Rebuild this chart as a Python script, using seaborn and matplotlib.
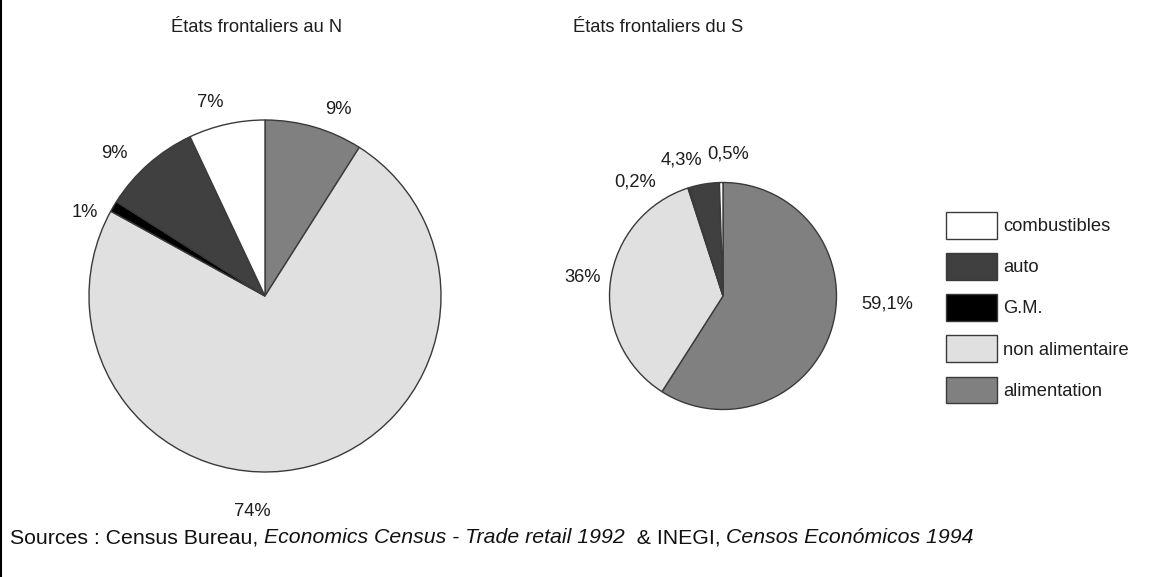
import matplotlib
matplotlib.use("Agg")
import matplotlib.pyplot as plt
from matplotlib.lines import Line2D
from matplotlib.patches import Patch
from matplotlib.text import Annotation
from matplotlib.transforms import Bbox
import seaborn as sns

# Retail sales structure by sector
categories = ["alimentation", "non alimentaire", "G.M.", "auto", "combustibles"]
north_values = [9, 74, 1, 9, 7]
south_values = [59.1, 36, 0.2, 4.3, 0.5]
north_labels = ["9%", "74%", "1%", "9%", "7%"]
south_labels = ["59,1%", "36%", "0,2%", "4,3%", "0,5%"]
legend_order = ["combustibles", "auto", "G.M.", "non alimentaire", "alimentation"]
titles = ["États frontaliers au N", "États frontaliers du S"]

sns.set_theme(style="white")
plt.rcParams["font.family"] = ["Liberation Sans", "DejaVu Sans"]

colors = dict(zip(categories, ["#808080", "#e0e0e0", "#000000", "#404040", "#ffffff"]))
slice_colors = [colors[c] for c in categories]
TXT = "#1e1e1e"
FS = 13.2

W, H = 1176, 577
fig = plt.figure(figsize=(W / 100, H / 100), dpi=100)


def pie_axes(cx, cy, r):
    return fig.add_axes([(cx - r) / W, (H - cy - r) / H, 2 * r / W, 2 * r / H])


def draw_pie(ax, values, labels, label_pos):
    ax.pie(values, colors=slice_colors, startangle=90, counterclock=False,
           radius=1, wedgeprops=dict(edgecolor="#3a3a3a", linewidth=1.0))
    ax.set_xlim(-1, 1)
    ax.set_ylim(-1, 1)
    ax.set_aspect("equal")
    ax.axis("off")
    for lab, (x, y) in zip(labels, label_pos):
        ax.text(x, y, lab, ha="center", va="center", fontsize=FS,
                color=TXT, clip_on=False)


# Northern border states
ax_n = pie_axes(265, 296, 176)
north_pos = [(0.415, 1.06), (-0.074, -1.227), (-1.023, 0.477), (-0.858, 0.807), (-0.313, 1.102)]
draw_pie(ax_n, north_values, north_labels, north_pos)
fig.text(256.5 / W, 1 - 27 / H, titles[0], ha="center", va="center", fontsize=FS, color=TXT)

# Southern border states
ax_s = pie_axes(723, 296, 113.5)
south_pos = [(1.445, -0.070), (-1.233, 0.167), (-0.775, 1.004), (-0.370, 1.198), (0.044, 1.251)]
draw_pie(ax_s, south_values, south_labels, south_pos)
fig.text(658 / W, 1 - 27 / H, titles[1], ha="center", va="center", fontsize=FS, color=TXT)

# Legend
handles = [Patch(facecolor=colors[c], edgecolor="#3a3a3a", linewidth=1.0) for c in legend_order]
leg = fig.legend(handles, legend_order, loc="upper left", bbox_to_anchor=(946 / W, 1 - 212 / H),
                 frameon=False, fontsize=FS, handlelength=2.8, handleheight=1.86,
                 labelspacing=0.79, handletextpad=0.3, borderpad=0, borderaxespad=0)
clip = Bbox.from_extents(0, 0, 1129, H)
for t in leg.get_texts():
    t.set_color(TXT)
    t.set_clip_box(clip)
    t.set_clip_on(True)

# Source line with italic titles
parts = [("Sources : Census Bureau, ", "normal"),
         ("Economics Census - Trade retail 1992", "italic"),
         ("  & INEGI, ", "normal"),
         ("Censos Económicos 1994", "italic")]
SFS = 15.3
anchor = fig.text(10 / W, 1 - 543 / H, parts[0][0], ha="left", va="baseline",
                  fontsize=SFS, color="#111111")
for txt, style in parts[1:]:
    anchor = fig.add_artist(Annotation(
        txt, xy=(1, 0), xycoords=anchor, ha="left", va="bottom",
        fontsize=SFS, color="#111111", style=style))

# Left frame line
fig.add_artist(Line2D([0.001, 0.001], [0, 1], color="black", linewidth=1.5,
                      transform=fig.transFigure))

fig.savefig("out.png", dpi=100)
